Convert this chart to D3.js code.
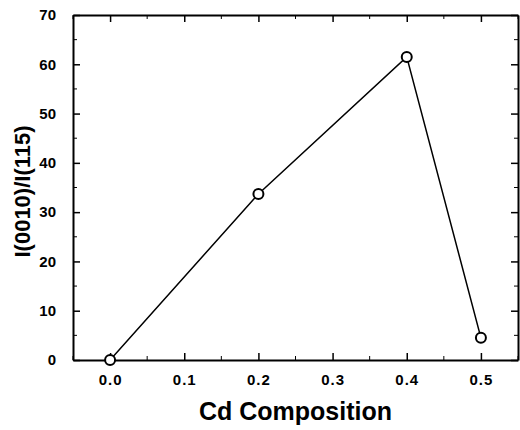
<!DOCTYPE html>
<html lang="en">
<head>
<meta charset="UTF-8">
<title>Cd Composition</title>
<script src="https://d3js.org/d3.v7.min.js"></script>
<style>
  body { margin: 0; background: #fff; }
  text { font-family: "Liberation Sans", Arial, sans-serif; font-weight: bold; fill: #000; }
</style>
</head>
<body>
<svg id="chart" width="520" height="430"></svg>
<script>
// data
var composition = [0.0, 0.2, 0.4, 0.5];
var ratio = [0.0, 33.7, 61.5, 4.5];
var xTicks = [0.0, 0.1, 0.2, 0.3, 0.4, 0.5];
var yTicks = [0, 10, 20, 30, 40, 50, 60, 70];

var margin = { top: 15, right: 2, bottom: 70, left: 73 },
    width = 520 - margin.left - margin.right,
    height = 430 - margin.top - margin.bottom;

var svg = d3.select("#chart")
  .append("g")
  .attr("transform", "translate(" + margin.left + "," + margin.top + ")");

var x = d3.scaleLinear().domain([-0.05, 0.55]).range([0, width]);
var y = d3.scaleLinear().domain([0, 70]).range([height, 0]);

var xMinor = d3.range(-0.05, 0.551, 0.05).map(function (d) { return +d.toFixed(2); })
  .filter(function (d) { return xTicks.indexOf(d) < 0; });
var yMinor = d3.range(5, 70, 10);

// bottom axis (ticks point inward)
var xAxis = svg.append("g").attr("transform", "translate(0," + height + ")")
  .call(d3.axisBottom(x).tickValues(xTicks).tickSizeInner(-7).tickSizeOuter(0)
    .tickPadding(14).tickFormat(d3.format(".1f")));
xAxis.selectAll("text").style("font-size", "15px").style("letter-spacing", "1px");
xAxis.append("g").selectAll("line").data(xMinor).enter().append("line")
  .attr("x1", function (d) { return x(d); }).attr("x2", function (d) { return x(d); })
  .attr("y1", 0).attr("y2", -4).attr("stroke", "#000");

// left axis
var yAxis = svg.append("g")
  .call(d3.axisLeft(y).tickValues(yTicks).tickSizeInner(-7).tickSizeOuter(0).tickPadding(17));
yAxis.selectAll("text").style("font-size", "15px");
yAxis.append("g").selectAll("line").data(yMinor).enter().append("line")
  .attr("y1", function (d) { return y(d); }).attr("y2", function (d) { return y(d); })
  .attr("x1", 0).attr("x2", 4).attr("stroke", "#000");

// top axis
var topAxis = svg.append("g")
  .call(d3.axisTop(x).tickValues(xTicks).tickSizeInner(-7).tickSizeOuter(0).tickFormat(""));
topAxis.append("g").selectAll("line").data(xMinor).enter().append("line")
  .attr("x1", function (d) { return x(d); }).attr("x2", function (d) { return x(d); })
  .attr("y1", 0).attr("y2", 4).attr("stroke", "#000");

// right axis
var rightAxis = svg.append("g").attr("transform", "translate(" + width + ",0)")
  .call(d3.axisRight(y).tickValues(yTicks).tickSizeInner(-7).tickSizeOuter(0).tickFormat(""));
rightAxis.append("g").selectAll("line").data(yMinor).enter().append("line")
  .attr("y1", function (d) { return y(d); }).attr("y2", function (d) { return y(d); })
  .attr("x1", 0).attr("x2", -4).attr("stroke", "#000");

svg.selectAll(".domain").attr("stroke-width", 2);
svg.selectAll(".tick line").attr("stroke-width", 1.5);

// line and markers
var pts = composition.map(function (c, i) { return { x: c, y: ratio[i] }; });
var line = d3.line()
  .x(function (d) { return x(d.x); })
  .y(function (d) { return y(d.y); });
svg.append("path")
  .datum(pts)
  .attr("d", line)
  .attr("fill", "none")
  .attr("stroke", "#000")
  .attr("stroke-width", 1.5);

svg.selectAll("circle.pt")
  .data(pts)
  .enter()
  .append("circle")
  .attr("class", "pt")
  .attr("cx", function (d) { return x(d.x); })
  .attr("cy", function (d) { return y(d.y); })
  .attr("r", 5)
  .attr("fill", "#fff")
  .attr("stroke", "#000")
  .attr("stroke-width", 2);

// axis titles
svg.append("text")
  .attr("x", width / 2)
  .attr("y", height + 60)
  .attr("text-anchor", "middle")
  .style("font-size", "25px")
  .text("Cd Composition");

svg.append("text")
  .attr("transform", "translate(" + (-43) + "," + (y(35) + 4) + ") rotate(-90)")
  .attr("text-anchor", "middle")
  .style("font-size", "22px")
  .text("I(0010)/I(115)");
</script>
</body>
</html>
